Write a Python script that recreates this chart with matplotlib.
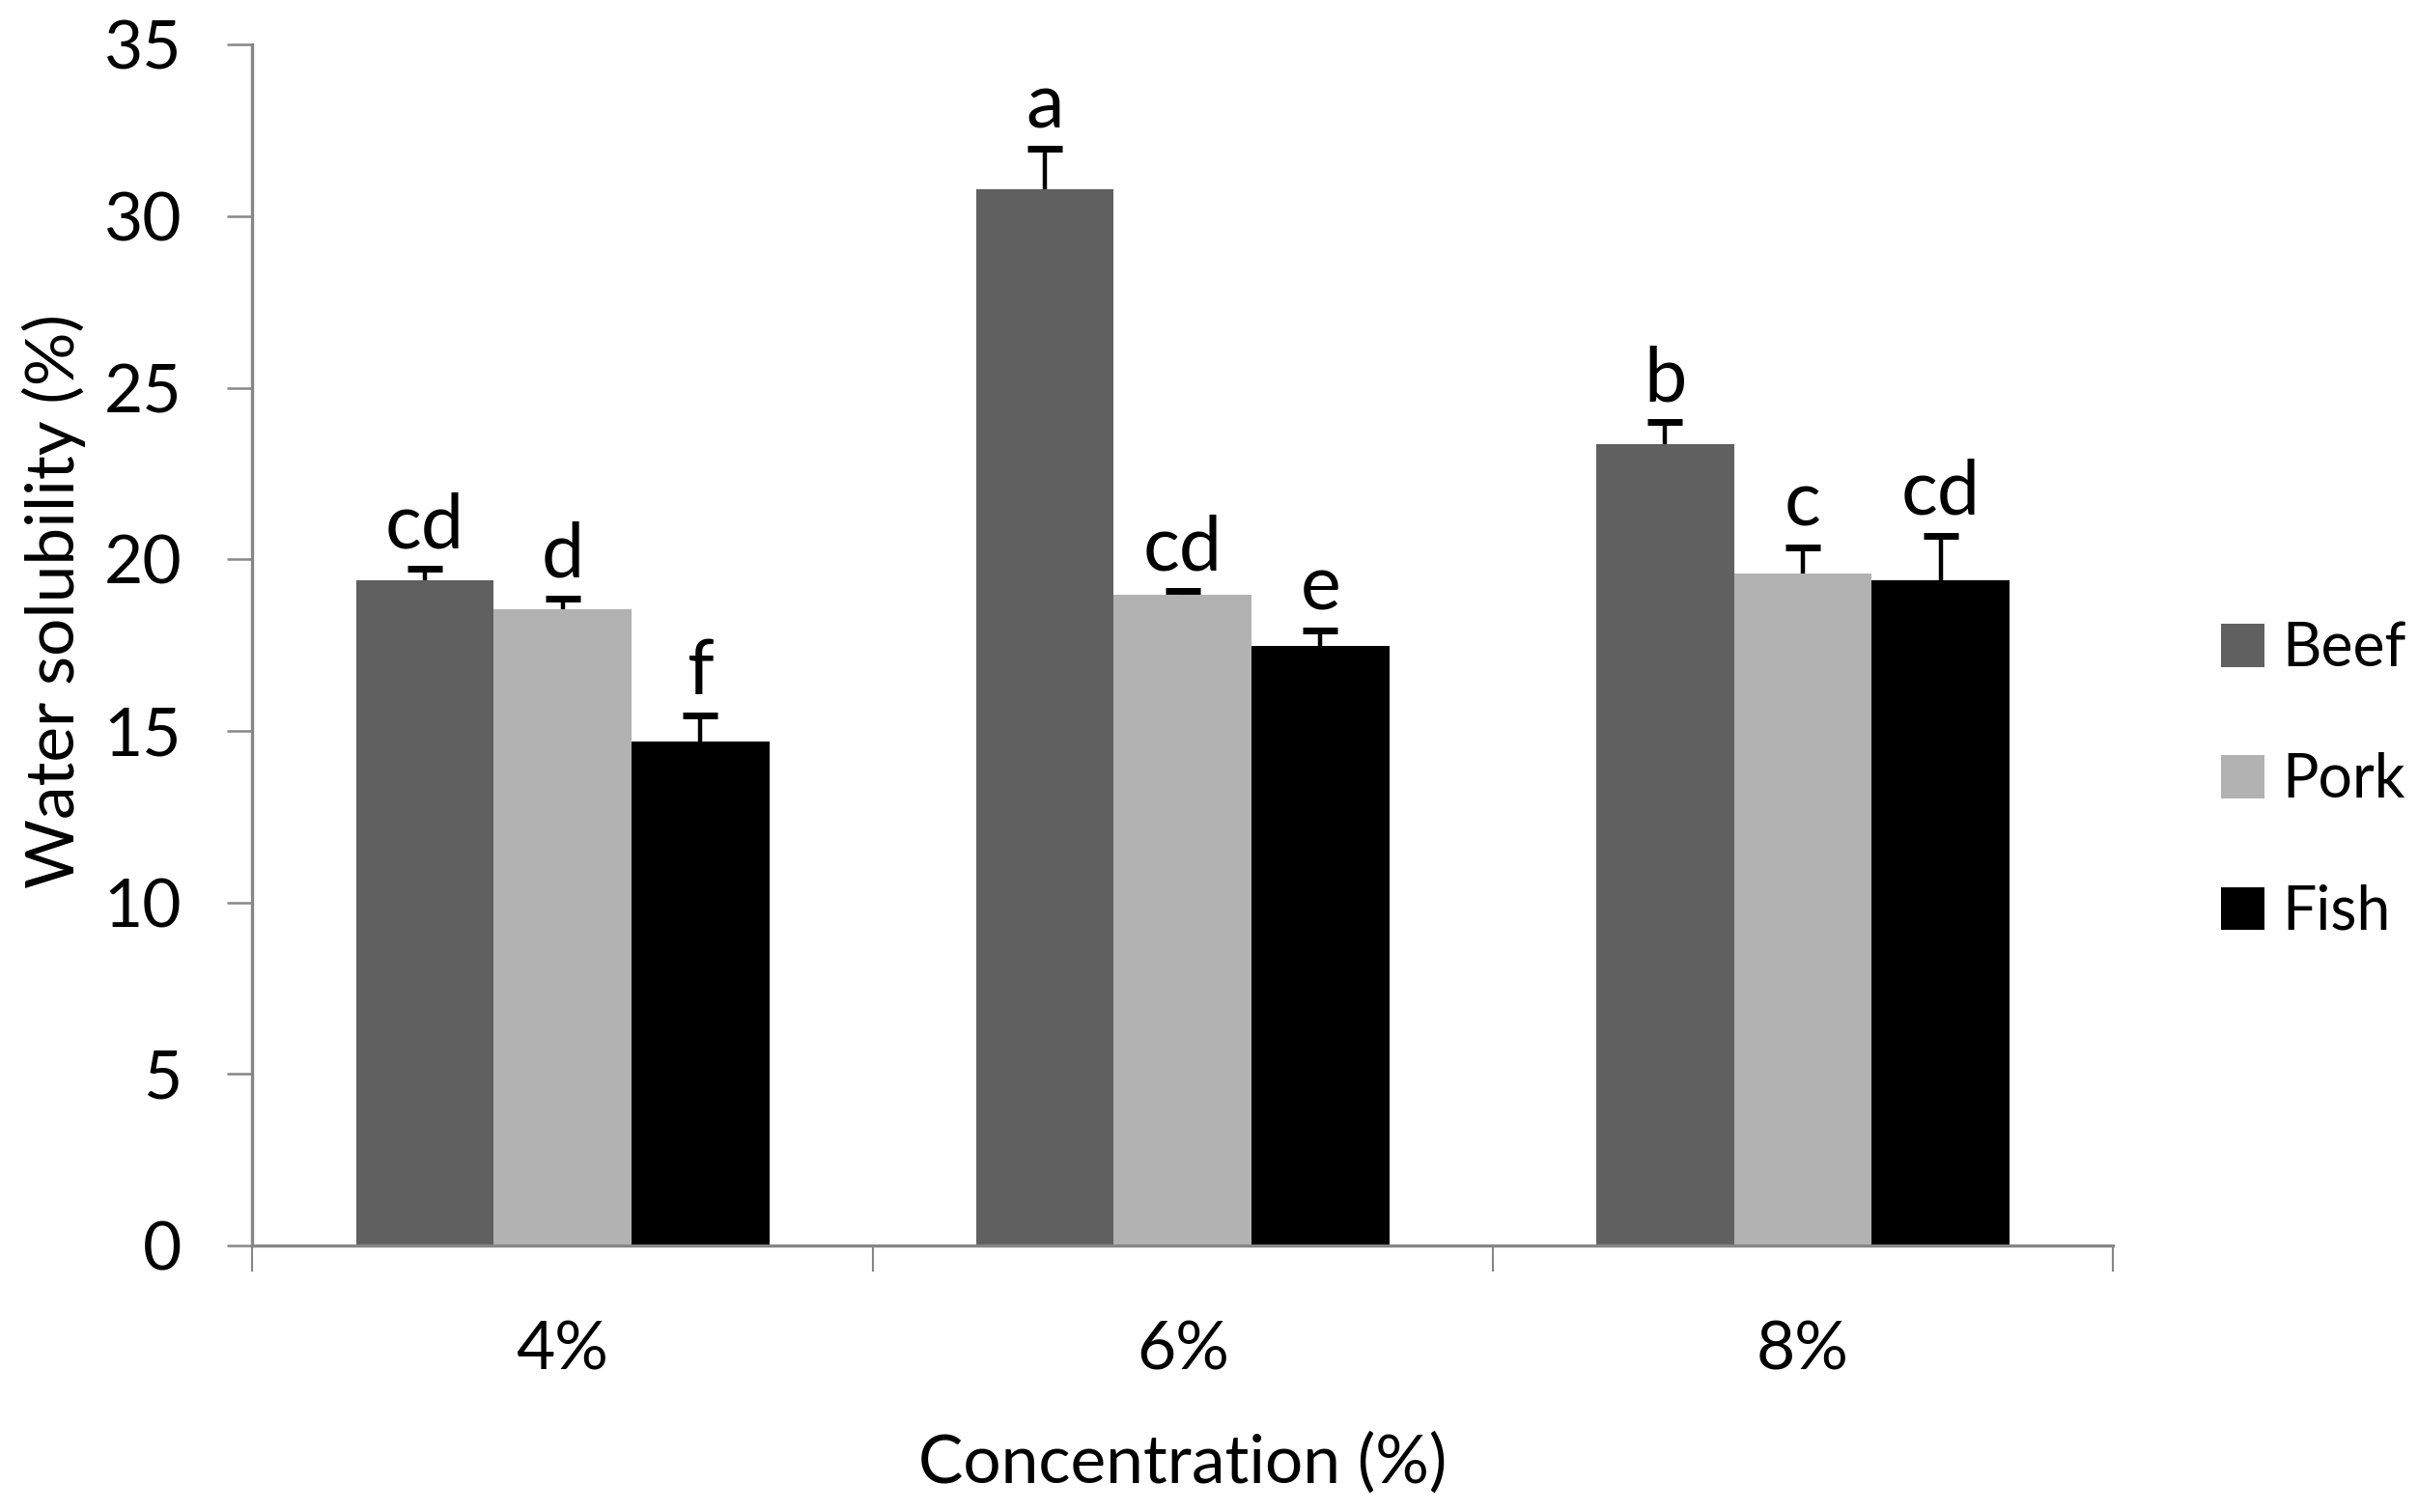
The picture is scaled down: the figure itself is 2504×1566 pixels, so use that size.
import matplotlib
matplotlib.use("Agg")
import matplotlib.pyplot as plt
import numpy as np
from matplotlib.patches import Patch

plt.rcParams["font.family"] = ["Lato", "DejaVu Sans"]

concentrations = ["4%", "6%", "8%"]
meats = ["Beef", "Pork", "Fish"]
beef = [19.4, 30.8, 23.35]
pork = [18.55, 18.98, 19.6]
fish = [14.7, 17.48, 19.4]
beef_err = [0.32, 1.17, 0.65]
pork_err = [0.32, 0.10, 0.76]
fish_err = [0.76, 0.44, 1.30]
beef_letters = ["cd", "a", "b"]
pork_letters = ["d", "cd", "c"]
fish_letters = ["f", "e", "cd"]

colors = ["#606060", "#b2b2b2", "#000000"]
axis_grey = "#868686"

values = [beef, pork, fish]
errors = [beef_err, pork_err, fish_err]
letters = [beef_letters, pork_letters, fish_letters]

fig = plt.figure(figsize=(25.04, 15.66), dpi=100)
ax = fig.add_axes([0.10443, 0.17625, 0.7694, 0.79406])

x = np.arange(len(concentrations))
width = 2 / 9
for j, (vals, errs, labs) in enumerate(zip(values, errors, letters)):
    pos = x + (j - 1) * width
    ax.bar(pos, vals, width, color=colors[j], label=meats[j], zorder=2)
    eb = ax.errorbar(pos, vals, yerr=[np.zeros(len(vals)), errs], fmt="none",
                     ecolor="black", elinewidth=3.2, capsize=12.8,
                     capthick=5, zorder=3)
    # only the upper cap is shown
    for cap in eb[1]:
        if np.allclose(cap.get_ydata(), vals):
            cap.set_visible(False)
    for xp, v, e, lab in zip(pos, vals, errs, labs):
        ax.text(xp, v + e + 0.62, lab, ha="center", va="baseline",
                fontsize=57, color="black")

ax.set_xlim(-0.5, 2.5)
ax.set_ylim(0, 35)
ax.set_yticks(np.arange(0, 36, 5))

# category boundaries as ticks, labels centred on categories
ax.set_xticks(np.arange(-0.5, 3.0, 1.0))
ax.set_xticklabels([])
ax.set_xticks(x, minor=True)
ax.set_xticklabels(concentrations, minor=True)
ax.tick_params(axis="x", which="major", direction="out", length=19.5,
               width=1.5, color=axis_grey)
ax.tick_params(axis="x", which="minor", length=0, pad=56, labelsize=50)
ax.tick_params(axis="y", direction="out", length=18.7, width=1.8,
               color=axis_grey, pad=34, labelsize=50)

for side in ["top", "right"]:
    ax.spines[side].set_visible(False)
for side in ["left", "bottom"]:
    ax.spines[side].set_color(axis_grey)
    ax.spines[side].set_linewidth(2.4)

ax.set_xlabel("Concentration (%)", fontsize=50, labelpad=38)
fig.text(0.0224, 1 - 623 / 1566, "Water solubility (%)", rotation=90,
         ha="center", va="center", fontsize=50)

handles = [Patch(facecolor=c, edgecolor="none") for c in colors]
fig.legend(handles, meats, loc="center left",
           bbox_to_anchor=(0.9185, 1 - 808.5 / 1566),
           bbox_transform=fig.transFigure, frameon=False, fontsize=45,
           handlelength=0.72, handleheight=0.72, handletextpad=0.3,
           labelspacing=1.25, borderpad=0, borderaxespad=0)

fig.savefig("out.png", dpi=100)
